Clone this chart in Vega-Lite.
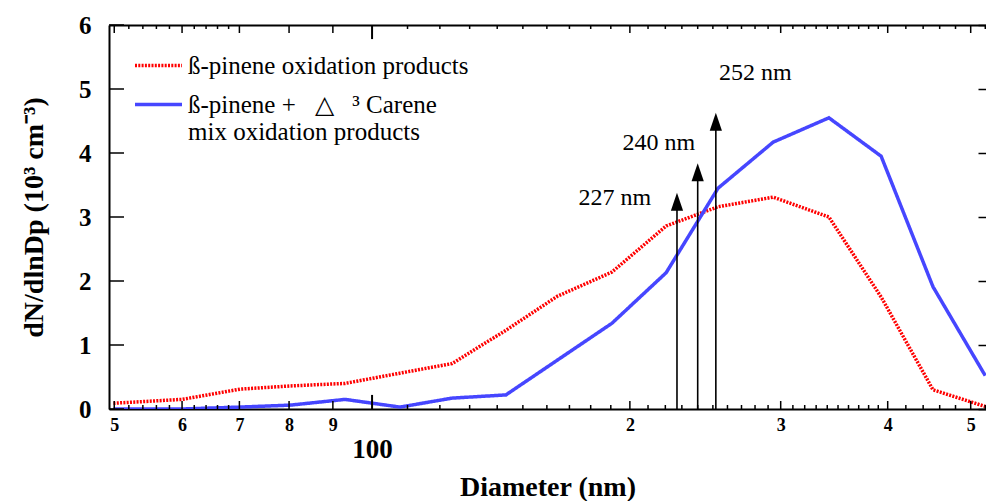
{
  "$schema": "https://vega.github.io/schema/vega-lite/v6.json",
  "width": 877,
  "height": 384,
  "autosize": {"type": "none"},
  "padding": {"left": 109, "top": 25, "right": 0, "bottom": 92},
  "background": "white",
  "config": {
    "view": {"stroke": null},
    "font": "Liberation Serif",
    "axis": {"grid": false, "tickColor": "black", "tickWidth": 1.5, "domainColor": "black", "domainWidth": 2, "labelColor": "black", "titleColor": "black"}
  },
  "datasets": {
    "curves": [
      {"d": 49.9, "y": 0.09, "series": "ß-pinene oxidation products"},
      {"d": 60.0, "y": 0.15, "series": "ß-pinene oxidation products"},
      {"d": 70.1, "y": 0.31, "series": "ß-pinene oxidation products"},
      {"d": 80.2, "y": 0.36, "series": "ß-pinene oxidation products"},
      {"d": 93.0, "y": 0.40, "series": "ß-pinene oxidation products"},
      {"d": 107.8, "y": 0.56, "series": "ß-pinene oxidation products"},
      {"d": 124.0, "y": 0.71, "series": "ß-pinene oxidation products"},
      {"d": 143.3, "y": 1.23, "series": "ß-pinene oxidation products"},
      {"d": 164.5, "y": 1.76, "series": "ß-pinene oxidation products"},
      {"d": 190.6, "y": 2.14, "series": "ß-pinene oxidation products"},
      {"d": 220.5, "y": 2.86, "series": "ß-pinene oxidation products"},
      {"d": 253.5, "y": 3.16, "series": "ß-pinene oxidation products"},
      {"d": 294.0, "y": 3.31, "series": "ß-pinene oxidation products"},
      {"d": 341.5, "y": 3.00, "series": "ß-pinene oxidation products"},
      {"d": 393.0, "y": 1.75, "series": "ß-pinene oxidation products"},
      {"d": 451.8, "y": 0.30, "series": "ß-pinene oxidation products"},
      {"d": 520.0, "y": 0.04, "series": "ß-pinene oxidation products"},
      {"d": 49.9, "y": 0.0, "series": "ß-pinene +\u00a0\u00a0\u00a0△\u00a0\u00a0\u00a0³ Carene\nmix oxidation products"},
      {"d": 60.0, "y": 0.0, "series": "ß-pinene +\u00a0\u00a0\u00a0△\u00a0\u00a0\u00a0³ Carene\nmix oxidation products"},
      {"d": 70.1, "y": 0.03, "series": "ß-pinene +\u00a0\u00a0\u00a0△\u00a0\u00a0\u00a0³ Carene\nmix oxidation products"},
      {"d": 80.2, "y": 0.06, "series": "ß-pinene +\u00a0\u00a0\u00a0△\u00a0\u00a0\u00a0³ Carene\nmix oxidation products"},
      {"d": 93.0, "y": 0.15, "series": "ß-pinene +\u00a0\u00a0\u00a0△\u00a0\u00a0\u00a0³ Carene\nmix oxidation products"},
      {"d": 107.8, "y": 0.03, "series": "ß-pinene +\u00a0\u00a0\u00a0△\u00a0\u00a0\u00a0³ Carene\nmix oxidation products"},
      {"d": 124.0, "y": 0.17, "series": "ß-pinene +\u00a0\u00a0\u00a0△\u00a0\u00a0\u00a0³ Carene\nmix oxidation products"},
      {"d": 143.3, "y": 0.22, "series": "ß-pinene +\u00a0\u00a0\u00a0△\u00a0\u00a0\u00a0³ Carene\nmix oxidation products"},
      {"d": 190.6, "y": 1.34, "series": "ß-pinene +\u00a0\u00a0\u00a0△\u00a0\u00a0\u00a0³ Carene\nmix oxidation products"},
      {"d": 220.5, "y": 2.13, "series": "ß-pinene +\u00a0\u00a0\u00a0△\u00a0\u00a0\u00a0³ Carene\nmix oxidation products"},
      {"d": 253.5, "y": 3.45, "series": "ß-pinene +\u00a0\u00a0\u00a0△\u00a0\u00a0\u00a0³ Carene\nmix oxidation products"},
      {"d": 294.0, "y": 4.17, "series": "ß-pinene +\u00a0\u00a0\u00a0△\u00a0\u00a0\u00a0³ Carene\nmix oxidation products"},
      {"d": 341.5, "y": 4.55, "series": "ß-pinene +\u00a0\u00a0\u00a0△\u00a0\u00a0\u00a0³ Carene\nmix oxidation products"},
      {"d": 393.0, "y": 3.95, "series": "ß-pinene +\u00a0\u00a0\u00a0△\u00a0\u00a0\u00a0³ Carene\nmix oxidation products"},
      {"d": 451.8, "y": 1.91, "series": "ß-pinene +\u00a0\u00a0\u00a0△\u00a0\u00a0\u00a0³ Carene\nmix oxidation products"},
      {"d": 520.0, "y": 0.52, "series": "ß-pinene +\u00a0\u00a0\u00a0△\u00a0\u00a0\u00a0³ Carene\nmix oxidation products"}
    ],
    "arrows": [
      {"d": 227, "tip": 3.38, "label": "227 nm", "label_d": 192.1, "label_y": 3.30},
      {"d": 240, "tip": 3.84, "label": "240 nm", "label_d": 216.2, "label_y": 4.16},
      {"d": 252, "tip": 4.63, "label": "252 nm", "label_d": 280.3, "label_y": 5.25}
    ],
    "xticks": [
      {"d": 50, "kind": "mid"}, {"d": 52, "kind": "minor"}, {"d": 54, "kind": "minor"}, {"d": 56, "kind": "minor"}, {"d": 58, "kind": "minor"},
      {"d": 60, "kind": "mid"}, {"d": 62, "kind": "minor"}, {"d": 64, "kind": "minor"}, {"d": 66, "kind": "minor"}, {"d": 68, "kind": "minor"},
      {"d": 70, "kind": "mid"}, {"d": 80, "kind": "mid"}, {"d": 90, "kind": "mid"}, {"d": 100, "kind": "major"},
      {"d": 110, "kind": "minor"}, {"d": 120, "kind": "minor"}, {"d": 130, "kind": "minor"}, {"d": 140, "kind": "minor"}, {"d": 150, "kind": "minor"},
      {"d": 160, "kind": "minor"}, {"d": 170, "kind": "minor"}, {"d": 180, "kind": "minor"}, {"d": 190, "kind": "minor"}, {"d": 200, "kind": "mid"},
      {"d": 210, "kind": "minor"}, {"d": 220, "kind": "minor"}, {"d": 230, "kind": "minor"}, {"d": 240, "kind": "minor"}, {"d": 250, "kind": "minor"},
      {"d": 260, "kind": "minor"}, {"d": 270, "kind": "minor"}, {"d": 280, "kind": "minor"}, {"d": 290, "kind": "minor"}, {"d": 300, "kind": "mid"},
      {"d": 310, "kind": "minor"}, {"d": 320, "kind": "minor"}, {"d": 330, "kind": "minor"}, {"d": 340, "kind": "minor"}, {"d": 350, "kind": "minor"},
      {"d": 360, "kind": "minor"}, {"d": 370, "kind": "minor"}, {"d": 380, "kind": "minor"}, {"d": 390, "kind": "minor"}, {"d": 400, "kind": "mid"},
      {"d": 420, "kind": "minor"}, {"d": 440, "kind": "minor"}, {"d": 460, "kind": "minor"}, {"d": 480, "kind": "minor"}, {"d": 500, "kind": "mid"},
      {"d": 520, "kind": "minor"}
    ],
    "yticks": [{"v": 0}, {"v": 1}, {"v": 2}, {"v": 3}, {"v": 4}, {"v": 5}, {"v": 6}]
  },
  "layer": [
    {
      "data": {"name": "curves"},
      "mark": {"type": "line", "strokeWidth": 3.5, "clip": true, "strokeCap": "butt"},
      "encoding": {
        "x": {
          "field": "d",
          "type": "quantitative",
          "scale": {"type": "log", "domain": [49.3, 521], "nice": false},
          "axis": {
            "orient": "bottom",
            "values": [50, 60, 70, 80, 90, 100, 200, 300, 400, 500],
            "labelExpr": "datum.value === 100 ? '100' : format(datum.value < 100 ? datum.value / 10 : datum.value / 100, 'd')",
            "ticks": false,
            "labelFontSize": {"condition": {"test": "datum.value === 100", "value": 27}, "value": 18},
            "labelPadding": {"condition": {"test": "datum.value === 100", "value": 27}, "value": 7},
            "labelFont": "Liberation Serif",
            "labelFontWeight": "bold",
            "labelOverlap": false,
            "labelFlush": false,
            "domain": true,
            "title": "Diameter (nm)",
            "titleFont": "Liberation Serif",
            "titleFontSize": 28,
            "titleFontWeight": "bold",
            "titlePadding": 11
          }
        },
        "y": {
          "field": "y",
          "type": "quantitative",
          "scale": {"domain": [0, 6], "nice": false},
          "axis": {
            "orient": "left",
            "values": [0, 1, 2, 3, 4, 5, 6],
            "format": "d",
            "ticks": false,
            "labelPadding": 18,
            "labelFont": "Liberation Serif",
            "labelFontSize": 25,
            "labelFontWeight": "bold",
            "domain": true,
            "title": "dN/dlnDp (10³ cm⁻³)",
            "titleFont": "Liberation Serif",
            "titleFontSize": 28,
            "titleFontWeight": "bold",
            "titlePadding": 30
          }
        },
        "color": {
          "field": "series",
          "type": "nominal",
          "scale": {
            "domain": ["ß-pinene oxidation products", "ß-pinene +\u00a0\u00a0\u00a0△\u00a0\u00a0\u00a0³ Carene\nmix oxidation products"],
            "range": ["#ff0000", "#4646ff"]
          },
          "legend": {
            "orient": "none",
            "legendX": 24,
            "legendY": 15,
            "title": null,
            "padding": 0,
            "symbolType": "stroke",
            "symbolSize": 2209,
            "symbolStrokeWidth": 3.5,
            "labelFont": "Liberation Serif",
            "labelFontSize": 25,
            "labelColor": "black",
            "labelLimit": 600,
            "labelOffset": 4,
            "labelBaseline": "alphabetic",
            "rowPadding": -2,
            "labelExpr": "split(datum.label, '\\n')",
            "encode": {"labels": {"update": {"dy": {"value": 8}, "lineHeight": {"value": 27}}}}
          }
        },
        "strokeDash": {
          "field": "series",
          "type": "nominal",
          "scale": {
            "domain": ["ß-pinene oxidation products", "ß-pinene +\u00a0\u00a0\u00a0△\u00a0\u00a0\u00a0³ Carene\nmix oxidation products"],
            "range": [[2, 1.3], [1, 0]]
          },
          "legend": {
            "orient": "none",
            "legendX": 24,
            "legendY": 15,
            "title": null,
            "padding": 0,
            "symbolType": "stroke",
            "symbolSize": 2209,
            "symbolStrokeWidth": 3.5,
            "labelFont": "Liberation Serif",
            "labelFontSize": 25,
            "labelColor": "black",
            "labelLimit": 600,
            "labelOffset": 4,
            "labelBaseline": "alphabetic",
            "rowPadding": -2,
            "labelExpr": "split(datum.label, '\\n')",
            "encode": {"labels": {"update": {"dy": {"value": 8}, "lineHeight": {"value": 27}}}}
          }
        }
      }
    },
    {
      "data": {"name": "arrows"},
      "mark": {"type": "rule", "color": "black", "strokeWidth": 1.6, "yOffset": 10},
      "encoding": {
        "x": {
          "field": "d",
          "type": "quantitative",
          "axis": {"orient": "top", "ticks": false, "labels": false, "domain": true, "title": null}
        },
        "y": {
          "field": "tip",
          "type": "quantitative",
          "axis": {"orient": "right", "tickSize": -8, "values": [0, 1, 2, 3, 4, 5, 6], "labels": false, "domain": false, "title": null}
        },
        "y2": {"datum": 0}
      }
    },
    {
      "data": {"name": "arrows"},
      "mark": {"type": "point", "shape": "M0,0L-0.34,1L0.34,1Z", "size": 1296, "filled": true, "color": "black", "opacity": 1, "strokeWidth": 0},
      "encoding": {
        "x": {"field": "d", "type": "quantitative", "axis": null},
        "y": {"field": "tip", "type": "quantitative", "axis": null}
      }
    },
    {
      "data": {"name": "arrows"},
      "mark": {"type": "text", "font": "Liberation Serif", "fontSize": 24, "color": "black", "align": "center", "baseline": "middle"},
      "encoding": {
        "x": {"field": "label_d", "type": "quantitative", "axis": null},
        "y": {"field": "label_y", "type": "quantitative", "axis": null},
        "text": {"field": "label"}
      }
    },
    {
      "data": {"name": "xticks"},
      "transform": [{"filter": "datum.kind === 'minor'"}],
      "mark": {"type": "rule", "color": "black", "strokeWidth": 1.5},
      "encoding": {
        "x": {"field": "d", "type": "quantitative", "axis": null},
        "y": {"datum": 0, "type": "quantitative", "axis": null},
        "y2": {"datum": 0.0625}
      }
    },
    {
      "data": {"name": "xticks"},
      "transform": [{"filter": "datum.kind === 'mid'"}],
      "mark": {"type": "rule", "color": "black", "strokeWidth": 1.5},
      "encoding": {
        "x": {"field": "d", "type": "quantitative", "axis": null},
        "y": {"datum": 0, "type": "quantitative", "axis": null},
        "y2": {"datum": 0.125}
      }
    },
    {
      "data": {"name": "xticks"},
      "transform": [{"filter": "datum.kind === 'major'"}],
      "mark": {"type": "rule", "color": "black", "strokeWidth": 2},
      "encoding": {
        "x": {"field": "d", "type": "quantitative", "axis": null},
        "y": {"datum": 0, "type": "quantitative", "axis": null},
        "y2": {"datum": 0.22}
      }
    },
    {
      "data": {"name": "xticks"},
      "transform": [{"filter": "datum.kind === 'minor'"}],
      "mark": {"type": "rule", "color": "black", "strokeWidth": 1.5},
      "encoding": {
        "x": {"field": "d", "type": "quantitative", "axis": null},
        "y": {"datum": 6, "type": "quantitative", "axis": null},
        "y2": {"datum": 5.9375}
      }
    },
    {
      "data": {"name": "xticks"},
      "transform": [{"filter": "datum.kind === 'mid'"}],
      "mark": {"type": "rule", "color": "black", "strokeWidth": 1.5},
      "encoding": {
        "x": {"field": "d", "type": "quantitative", "axis": null},
        "y": {"datum": 6, "type": "quantitative", "axis": null},
        "y2": {"datum": 5.875}
      }
    },
    {
      "data": {"name": "xticks"},
      "transform": [{"filter": "datum.kind === 'major'"}],
      "mark": {"type": "rule", "color": "black", "strokeWidth": 2},
      "encoding": {
        "x": {"field": "d", "type": "quantitative", "axis": null},
        "y": {"datum": 6, "type": "quantitative", "axis": null},
        "y2": {"datum": 5.78}
      }
    },
    {
      "data": {"name": "yticks"},
      "mark": {"type": "rule", "color": "black", "strokeWidth": 1.5},
      "encoding": {
        "y": {"field": "v", "type": "quantitative", "axis": null},
        "x": {"datum": 49.3, "type": "quantitative", "axis": null},
        "x2": {"datum": 51.33}
      }
    }
  ],
  "resolve": {"axis": {"x": "independent", "y": "independent"}}
}
